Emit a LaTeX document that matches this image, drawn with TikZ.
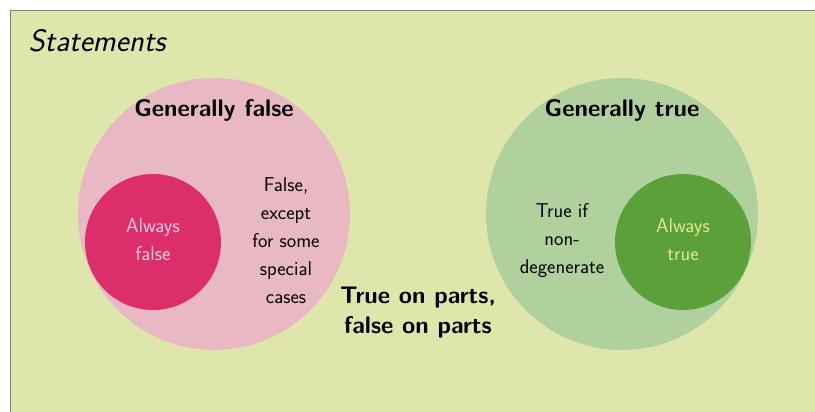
\documentclass[tikz,border=0pt]{standalone}
\usepackage{fontspec}
\usepackage{tikz}
\usetikzlibrary{positioning}
\definecolor{statebg}{RGB}{223,230,172}
\definecolor{falsebig}{RGB}{232,185,194}
\definecolor{falsedark}{RGB}{220,46,106}
\definecolor{falsetext}{RGB}{246,205,218}
\definecolor{truebig}{RGB}{176,209,158}
\definecolor{truedark}{RGB}{92,160,58}
\definecolor{truetext}{RGB}{232,232,140}
\tikzset{every node/.style={ % Sets the properties for each text
font=\sffamily\fontsize{20}{28}\selectfont,
align=center},
big set/.style={ % Large circles of statements
circle, minimum size=272pt, inner sep=0pt},
small set/.style={ % Inner circles
circle, minimum size=136pt, inner sep=0pt},
set title/.style={ % Bold headings
font=\sffamily\bfseries\fontsize{24}{30}\selectfont}}

\begin{document}
\begin{tikzpicture}[x=1pt, y=-1pt]
    
    \useasboundingbox (0,0) rectangle (815,412);
    \draw[gray, fill=statebg] (10,10) rectangle (830,430);
    \node[anchor=west, font=\sffamily\itshape\fontsize{31}{36}\selectfont] (statements) at (25,41) {Statements};
    
    \node[big set, fill=falsebig] (false) at (214,214) {};
    \node[big set, fill=truebig] (true) at (622,214) {};
    \node[small set, fill=falsedark] (alwaysfalse) at (153,242) {};
    \node[small set, fill=truedark] (alwaystrue) at (683,242) {};
    
    \node[text=falsetext] (falselabel) at (153,240) {Always\\false};
    \node[text=truetext] (truelabel) at (683,240) {Always\\true};
    \node[set title] (falsetitle) at (214,110) {Generally false};
    \node[set title] (truetitle) at (622,110) {Generally true};
    \node (except) at (286,241) {False,\\except\\for some\\special\\cases};
    \node (nondeg) at (562,241) {True if\\non-\\degenerate};
    \node[set title] (parts) at (418,313) {True on parts,\\false on parts};
    
\end{tikzpicture}
\end{document}
